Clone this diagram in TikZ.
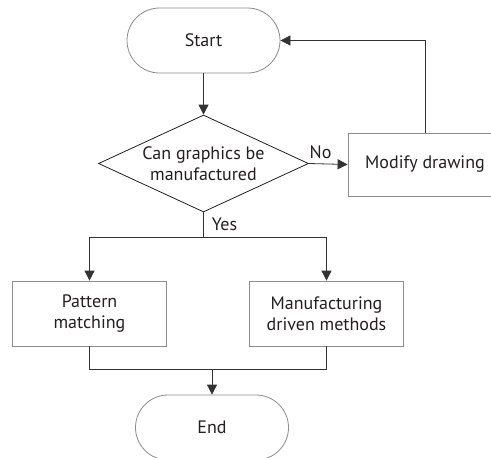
\documentclass[tikz,border=0pt]{standalone}
\usepackage{fontspec}
\setmainfont{PT Sans}
\usepackage{xcolor}
\usetikzlibrary{arrows.meta,shapes.geometric,shapes.misc}
\definecolor{boxgray}{HTML}{8C8C8C}
\definecolor{linegray}{HTML}{333333}
\definecolor{txtgray}{HTML}{231F20}
\begin{document}
\begin{tikzpicture}[x=0.75pt,y=-0.75pt,
	every node/.style={text=txtgray, font=\fontsize{13.5}{15.5}\selectfont, align=center},
	term/.style={draw=boxgray, line width=.6pt, rounded rectangle, minimum width=114.75pt, minimum height=48.75pt, inner sep=0pt},
	proc/.style={draw=boxgray, line width=.6pt, rectangle, minimum width=115.5pt, minimum height=48.75pt, inner sep=0pt},
	ask/.style={draw=txtgray, line width=.6pt, diamond, aspect=2.165, minimum width=157.5pt, minimum height=72.75pt, inner sep=-1.5pt},
	arr/.style={draw=linegray, line width=.6pt, -{Triangle[length=7.5pt,width=7.5pt]}},
	conn/.style={draw=linegray, line width=.6pt}]
				%picture frame, boxes on the right and at the bottom run past it
				\clip (0,0) rectangle (491,457);
				%%boxes placed by hand
				\node[term] (start) at (203.5, 40.5){Start};
				\node[ask] (decide) at (203.5, 163.5){Can graphics be\\manufactured};
				\node[proc, minimum height=47.25pt] (modify) at (425, 164.5){Modify drawing};
				\node[proc] (pattern) at (89.5, 313.5){Pattern\\matching};
				\node[proc] (mfg) at (326.5, 313.5){Manufacturing\\driven methods};
				\node[term] (end) at (212, 427.5){End};
				\coordinate (split) at (203.5, 237);
				\coordinate (join) at (212, 369);

				\draw[arr] (start.south)--(decide.north);
				\draw[arr] (decide.east)--node[pos=.3, above]{No}(modify.west);
				\draw[arr] (modify.north)|-(start.east);
				\draw[conn] (decide.south)--node[right, inner sep=6pt]{Yes}(split);
				\draw[arr] (split)-|(pattern.north);
				\draw[arr] (split)-|(mfg.north);
				\draw[conn] (pattern.south)|-(join)-|(mfg.south);
				\draw[arr] (join)--(end.north);
				\end{tikzpicture}
\end{document}
